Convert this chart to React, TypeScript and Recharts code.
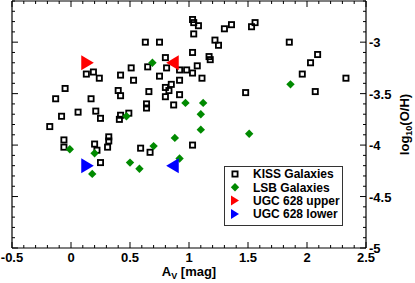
import { ScatterChart, Scatter, XAxis, YAxis, Legend } from "recharts";

// KISS galaxies
const kissAv = [
  1.03, 1.04, 1.08, 1.04, 1.3, 1.36, 1.53, 1.56, 0.63, 0.75, 1.03, 1.22, 1.25, 1.17, 1.18, 0.8,
  0.65, 0.81, 0.75, 0.92, 0.98, 1.03, 1.07, 1.11, 0.92, 0.66, 0.8, 0.85, 0.83, 0.8, 0.92, 1.48,
  1.85, 2.09, 2.03, 1.96, 2.33, 2.07, 0.13, 0.19, 0.24, 0.42, 0.51, 0.53, -0.05, -0.13, 0.17, 0.4,
  0.42, -0.08, 0.06, 0.21, 0.25, 0.42, 0.41, 0.49, -0.18, -0.06, -0.06, 0.2, 0.22, 0.25, 0.32, 0.32,
  0.31, 0.64, 0.64, 0.87, 0.59, 0.67, 1.03,
];
const kissOH = [
  -2.78, -2.81, -2.84, -2.92, -2.87, -2.83, -2.85, -2.81, -3.0, -3.0, -3.1, -2.98, -3.03, -3.14, -3.17, -3.15,
  -3.24, -3.25, -3.33, -3.27, -3.27, -3.3, -3.23, -3.35, -3.37, -3.48, -3.44, -3.41, -3.47, -3.53, -3.51, -3.49,
  -3.0, -3.12, -3.2, -3.31, -3.35, -3.48, -3.31, -3.29, -3.35, -3.32, -3.25, -3.37, -3.45, -3.55, -3.55, -3.47,
  -3.52, -3.72, -3.68, -3.67, -3.74, -3.71, -3.75, -3.69, -3.82, -3.95, -4.02, -3.99, -4.05, -4.17, -3.92, -3.96,
  -4.02, -3.6, -3.64, -3.61, -4.03, -4.07, -4.0,
];

// LSB galaxies
const lsbAv = [0.69, 1.86, 0.97, 1.12, 1.1, 1.1, 1.51, 0.88, 0.7, 0.92, 0.58, 0.5, 0.47, -0.01, 0.2, 0.18];
const lsbOH = [-3.2, -3.41, -3.59, -3.59, -3.7, -3.85, -3.89, -3.93, -4.01, -4.13, -4.23, -4.17, -3.72, -4.04, -4.08, -4.28];

// UGC 628
const ugcAv = [0.14, 0.86];
const ugcUpperOH = [-3.2, -3.2];
const ugcLowerOH = [-4.2, -4.2];

const xTicks = [
  -0.5, -0.4, -0.3, -0.2, -0.1, 0, 0.1, 0.2, 0.3, 0.4, 0.5, 0.6, 0.7, 0.8, 0.9, 1, 1.1, 1.2, 1.3, 1.4, 1.5,
  1.6, 1.7, 1.8, 1.9, 2, 2.1, 2.2, 2.3, 2.4, 2.5,
];
const yTicks = [
  -5, -4.9, -4.8, -4.7, -4.6, -4.5, -4.4, -4.3, -4.2, -4.1, -4, -3.9, -3.8, -3.7, -3.6, -3.5, -3.4, -3.3,
  -3.2, -3.1, -3, -2.9, -2.8, -2.7, -2.6,
];

const toPoints = (xs: number[], ys: number[]) => xs.map((av, i) => ({ av, oh: ys[i] }));
const kiss = toPoints(kissAv, kissOH);
const lsb = toPoints(lsbAv, lsbOH);
const upper = toPoints(ugcAv, ugcUpperOH);
const lower = toPoints(ugcAv, ugcLowerOH);

const FONT = "'Liberation Sans', Arial, sans-serif";
const isMajor = (v: number) => Math.abs(v * 2 - Math.round(v * 2)) < 1e-6;
const fmt = (v: number) => String(Math.round(v * 10) / 10);

function BottomTick({ x, y, payload }: any) {
  const major = isMajor(payload.value);
  return (
    <g>
      <line x1={x} x2={x} y1={y} y2={y - (major ? 6 : 3)} stroke="#000" />
      {major && (
        <text x={x} y={y + 14} textAnchor="middle" fontSize={13} fontWeight="bold" fill="#000">
          {fmt(payload.value)}
        </text>
      )}
    </g>
  );
}

function TopTick({ x, y, payload }: any) {
  const major = isMajor(payload.value);
  return <line x1={x} x2={x} y1={y} y2={y + (major ? 6 : 3)} stroke="#000" />;
}

function LeftTick({ x, y, payload }: any) {
  const major = isMajor(payload.value);
  return <line x1={x} x2={x + (major ? 6 : 3)} y1={y} y2={y} stroke="#000" />;
}

function RightTick({ x, y, payload }: any) {
  const major = isMajor(payload.value);
  return (
    <g>
      <line x1={x} x2={x - (major ? 6 : 3)} y1={y} y2={y} stroke="#000" />
      {major && (
        <text x={x + 3} y={y + 5} textAnchor="start" fontSize={13} fontWeight="bold" fill="#000">
          {fmt(payload.value)}
        </text>
      )}
    </g>
  );
}

function XTitle({ viewBox }: any) {
  const cx = viewBox.x + viewBox.width / 2;
  return (
    <text x={cx} y={viewBox.y + 28} textAnchor="middle" fontSize={13} fontWeight="bold" fill="#000">
      A
      <tspan fontSize={9} dy={3}>V</tspan>
      <tspan dy={-3}> [mag]</tspan>
    </text>
  );
}

function YTitle({ viewBox }: any) {
  const x = viewBox.x + 43;
  const y = viewBox.y + viewBox.height / 2;
  return (
    <text x={x} y={y} transform={`rotate(-90, ${x}, ${y})`} textAnchor="middle" fontSize={13} fontWeight="bold" fill="#000">
      log
      <tspan fontSize={9} dy={3}>10</tspan>
      <tspan dy={-3}>(O/H)</tspan>
    </text>
  );
}

const squarePath = (cx: number, cy: number, s: number) => (
  <rect x={cx - s} y={cy - s} width={2 * s} height={2 * s} fill="none" stroke="#000" strokeWidth={1.8} />
);
const diamondPath = (cx: number, cy: number, s: number, color: string) => (
  <polygon points={`${cx},${cy - s} ${cx + s},${cy} ${cx},${cy + s} ${cx - s},${cy}`} fill={color} />
);
const trianglePath = (cx: number, cy: number, w: number, h: number, right: boolean, color: string) => {
  const d = right ? 1 : -1;
  return (
    <polygon
      points={`${cx - d * w},${cy - h} ${cx + d * w},${cy} ${cx - d * w},${cy + h}`}
      fill={color}
    />
  );
};

const KissShape = (p: any) => squarePath(p.cx, p.cy, 2.6);
const LsbShape = (p: any) => diamondPath(p.cx, p.cy, 4.2, "#008a00");
const UpperShape = (p: any) => trianglePath(p.cx, p.cy, 6.3, 7.5, p.payload.av < 0.5, "#ff0000");
const LowerShape = (p: any) => trianglePath(p.cx, p.cy, 6.3, 7.5, p.payload.av < 0.5, "#0000ff");

function LegendBox() {
  const rows = [
    { label: "KISS Galaxies", icon: squarePath(11, 8, 2.6) },
    { label: "LSB Galaxies", icon: diamondPath(11, 21.3, 4.2, "#008a00") },
    { label: "UGC 628 upper", icon: trianglePath(11, 34.6, 4, 5, true, "#ff0000") },
    { label: "UGC 628 lower", icon: trianglePath(11, 48, 4, 5, true, "#0000ff") },
  ];
  const ys = [8, 21.3, 34.6, 48];
  return (
    <svg width={119} height={60} style={{ display: "block" }}>
      <rect x={0.5} y={0.5} width={118} height={59} fill="#fff" stroke="#333" />
      {rows.map((r, i) => (
        <g key={r.label}>
          {r.icon}
          <text x={29} y={ys[i] + 4.3} fontSize={12} fontWeight="bold" fill="#000" fontFamily={FONT}>
            {r.label}
          </text>
        </g>
      ))}
    </svg>
  );
}

export default function App() {
  return (
    <div style={{ position: "absolute", left: 0, top: 0 }}>
      <ScatterChart
        width={415}
        height={283}
        margin={{ top: 0, right: 0, bottom: 0, left: 0 }}
        style={{ fontFamily: FONT }}
      >
        <XAxis
          type="number"
          dataKey="av"
          domain={[-0.5, 2.5]}
          ticks={xTicks}
          interval={0}
          allowDataOverflow
          height={35}
          tickSize={0}
          tickMargin={0}
          tickLine={false}
          tick={<BottomTick />}
          axisLine={{ stroke: "#000", strokeWidth: 1.2 }}
          label={(p: any) => <XTitle {...p} />}
        />
        <XAxis
          xAxisId="top"
          orientation="top"
          type="number"
          dataKey="av"
          domain={[-0.5, 2.5]}
          ticks={xTicks}
          interval={0}
          allowDataOverflow
          height={1}
          tickSize={0}
          tickMargin={0}
          tickLine={false}
          tick={<TopTick />}
          axisLine={{ stroke: "#000", strokeWidth: 1.2 }}
        />
        <YAxis
          type="number"
          dataKey="oh"
          domain={[-5, -2.6]}
          ticks={yTicks}
          interval={0}
          allowDataOverflow
          width={12}
          tickSize={0}
          tickMargin={0}
          tickLine={false}
          tick={<LeftTick />}
          axisLine={{ stroke: "#000", strokeWidth: 1.2 }}
        />
        <YAxis
          yAxisId="right"
          orientation="right"
          type="number"
          dataKey="oh"
          domain={[-5, -2.6]}
          ticks={yTicks}
          interval={0}
          allowDataOverflow
          width={49}
          tickSize={0}
          tickMargin={0}
          tickLine={false}
          tick={<RightTick />}
          axisLine={{ stroke: "#000", strokeWidth: 1.2 }}
          label={(p: any) => <YTitle {...p} />}
        />
        <Scatter name="KISS Galaxies" data={kiss} shape={KissShape} isAnimationActive={false} />
        <Scatter name="LSB Galaxies" data={lsb} shape={LsbShape} isAnimationActive={false} />
        <Scatter name="UGC 628 upper" data={upper} shape={UpperShape} isAnimationActive={false} />
        <Scatter name="UGC 628 lower" data={lower} shape={LowerShape} isAnimationActive={false} />
        <Legend
          layout="vertical"
          align="center"
          verticalAlign="middle"
          content={() => <LegendBox />}
          wrapperStyle={{ left: 224, top: 166, width: 119, height: 60 }}
        />
      </ScatterChart>
    </div>
  );
}
